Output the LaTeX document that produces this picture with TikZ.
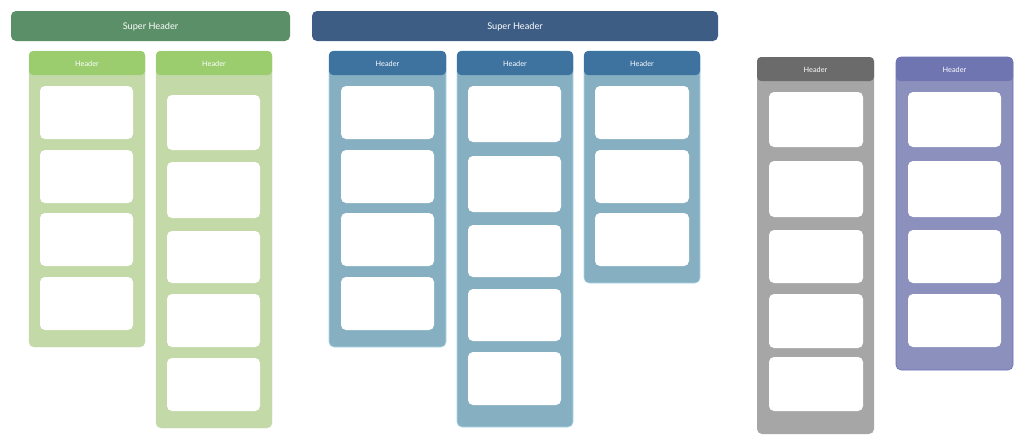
\documentclass[tikz,border=0pt]{standalone}
\usepackage{fontspec}
\setmainfont{Lato}
\definecolor{gsuper}{HTML}{5A8F67}
\definecolor{bsuper}{HTML}{3D5D85}
\definecolor{ghead}{HTML}{9BCD6F}
\definecolor{gbody}{HTML}{C3DAA8}
\definecolor{bhead}{HTML}{3E73A0}
\definecolor{bbody}{HTML}{86AFC1}
\definecolor{bedge}{HTML}{A9D6EA}
\definecolor{khead}{HTML}{6B6B6B}
\definecolor{kbody}{HTML}{A6A6A6}
\definecolor{phead}{HTML}{6E75B0}
\definecolor{pbody}{HTML}{8B90BD}
\definecolor{pedge}{HTML}{6A70B6}
\newcommand\blk[6]{\node[#2, anchor=north west, minimum width={(#5-#3)*1pt}, minimum height={(#6-#4)*1pt}] (#1) at (#3,#4) {};}
\newcommand\hdr[7]{\node[#2, anchor=north west, minimum width={(#5-#3)*1pt}, minimum height={(#6-#4)*1pt}] (#1) at (#3,#4) {\raisebox{-1.3pt}[\height][\depth]{#7}};}
\tikzset{
  base/.style={inner sep=0pt, outer sep=0pt, rounded corners=5pt},
  supg/.style={base, fill=gsuper, text=white, font=\fontsize{9.2}{10}\selectfont},
  supb/.style={base, fill=bsuper, text=white, font=\fontsize{9.2}{10}\selectfont},
  colg/.style={base, fill=gbody, draw=gbody!85!black!60, line width=0.3pt},
  colb/.style={base, fill=bbody, draw=bedge, line width=0.6pt},
  colk/.style={base, fill=kbody},
  colp/.style={base, fill=pbody, draw=pedge, line width=0.6pt},
  hg/.style={base, rounded corners=4pt, fill=ghead, text=white, font=\fontsize{7.3}{8}\selectfont},
  hb/.style={base, rounded corners=4pt, fill=bhead, text=white, font=\fontsize{7.3}{8}\selectfont},
  hk/.style={base, rounded corners=4pt, fill=khead, text=white, font=\fontsize{7.3}{8}\selectfont},
  hp/.style={base, rounded corners=4pt, fill=phead, text=white, font=\fontsize{7.3}{8}\selectfont},
  card/.style={base, fill=white}
}
\begin{document}
\begin{tikzpicture}[x=1pt,y=-1pt]
\useasboundingbox (0,0) rectangle (1024,445);
% super headers
\hdr{sg}{supg}{11}{11}{290}{41}{Super Header}
\hdr{sb}{supb}{312}{11}{718}{41}{Super Header}
% green column 1
\blk{g1}{colg}{29}{51}{145}{347}
\hdr{g1h}{hg}{29}{51}{145}{75}{Header}
\blk{g1a}{card}{40}{86}{133}{139}
\blk{g1b}{card}{40}{150}{133}{203}
\blk{g1c}{card}{40}{213}{133}{266}
\blk{g1d}{card}{40}{277}{133}{330}
% green column 2
\blk{g2}{colg}{156}{51}{272}{428}
\hdr{g2h}{hg}{156}{51}{272}{75}{Header}
\blk{g2a}{card}{167}{95}{260}{150}
\blk{g2b}{card}{167}{162}{260}{218}
\blk{g2c}{card}{167}{231}{260}{283}
\blk{g2d}{card}{167}{294}{260}{347}
\blk{g2e}{card}{167}{358}{260}{411}
% blue column 1
\blk{b1}{colb}{329}{51}{446}{347}
\hdr{b1h}{hb}{329}{51}{446}{75}{Header}
\blk{b1a}{card}{341}{86}{434}{139}
\blk{b1b}{card}{341}{150}{434}{203}
\blk{b1c}{card}{341}{213}{434}{266}
\blk{b1d}{card}{341}{277}{434}{330}
% blue column 2
\blk{b2}{colb}{457}{51}{573}{427}
\hdr{b2h}{hb}{457}{51}{573}{75}{Header}
\blk{b2a}{card}{468}{86}{561}{142}
\blk{b2b}{card}{468}{156}{561}{212}
\blk{b2c}{card}{468}{225}{561}{277}
\blk{b2d}{card}{468}{289}{561}{341}
\blk{b2e}{card}{468}{352}{561}{405}
% blue column 3
\blk{b3}{colb}{584}{51}{700}{283}
\hdr{b3h}{hb}{584}{51}{700}{75}{Header}
\blk{b3a}{card}{595}{86}{689}{139}
\blk{b3b}{card}{595}{150}{689}{203}
\blk{b3c}{card}{595}{213}{689}{266}
% gray column
\blk{k1}{colk}{757}{57}{874}{434}
\hdr{k1h}{hk}{757}{57}{874}{81}{Header}
\blk{k1a}{card}{769}{92}{863}{147}
\blk{k1b}{card}{769}{161}{863}{217}
\blk{k1c}{card}{769}{230}{863}{283}
\blk{k1d}{card}{769}{294}{863}{348}
\blk{k1e}{card}{769}{357}{863}{411}
% purple column
\blk{p1}{colp}{896}{57}{1013}{370}
\hdr{p1h}{hp}{896}{57}{1013}{81}{Header}
\blk{p1a}{card}{908}{92}{1001}{147}
\blk{p1b}{card}{908}{161}{1001}{217}
\blk{p1c}{card}{908}{230}{1001}{283}
\blk{p1d}{card}{908}{294}{1001}{347}
\end{tikzpicture}
\end{document}
